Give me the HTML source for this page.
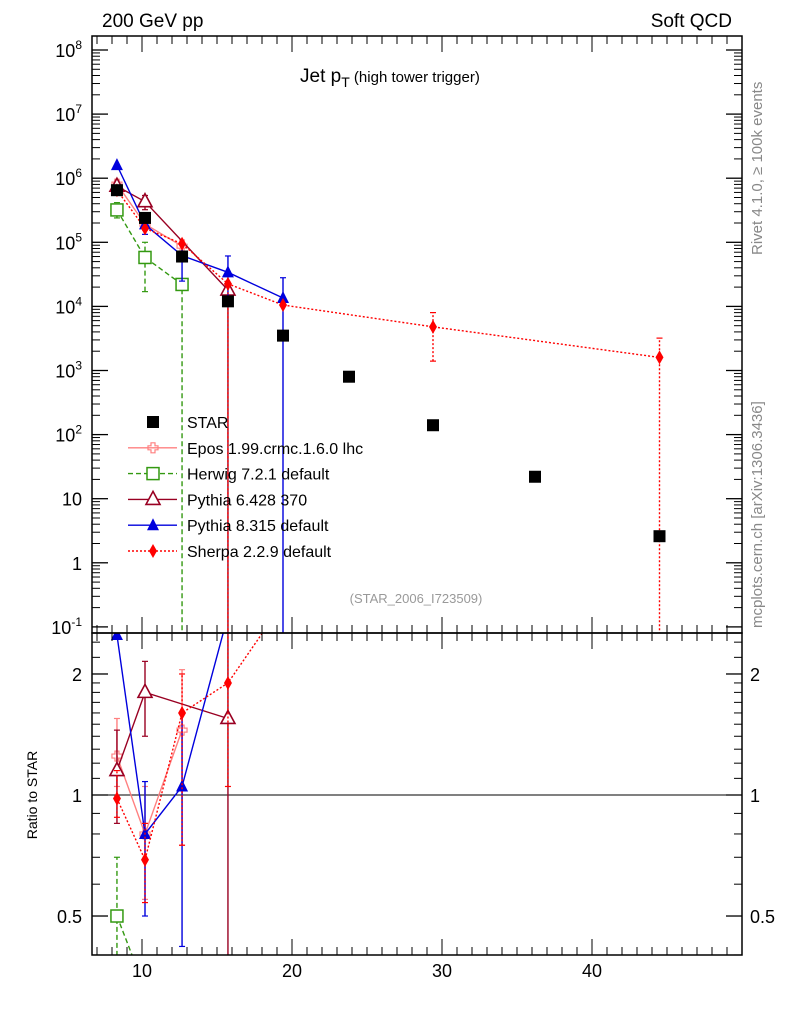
<!DOCTYPE html>
<html><head><meta charset="utf-8"><style>
html,body{margin:0;padding:0;background:#fff;width:786px;height:1024px;overflow:hidden;}
svg{display:block;font-family:"Liberation Sans",sans-serif;overflow:hidden;}
</style></head><body>
<svg id="c" width="786" height="1024" viewBox="0 0 786 1024">
<text x="102" y="27" font-size="19">200 GeV pp</text>
<text x="732" y="27" font-size="19" text-anchor="end">Soft QCD</text>
<text x="300" y="82" font-size="19">Jet p<tspan font-size="14" dy="5">T</tspan><tspan font-size="15" dy="-5"> (high tower trigger)</tspan></text>
<text transform="translate(762,255) rotate(-90)" font-size="15" fill="#888">Rivet 4.1.0, ≥ 100k events</text>
<text transform="translate(762,628) rotate(-90)" font-size="15" fill="#888">mcplots.cern.ch [arXiv:1306.3436]</text>
<text x="416" y="603" font-size="13" fill="#999" text-anchor="middle">(STAR_2006_I723509)</text>
<text transform="translate(37,795) rotate(-90)" font-size="14" text-anchor="middle">Ratio to STAR</text>
<defs><clipPath id="cm"><rect x="92" y="36" width="650" height="597"/></clipPath><clipPath id="cr"><rect x="92" y="633" width="650" height="322"/></clipPath></defs>
<g id="main"></g><g id="ratio"></g><g id="axes"></g><g id="legend"></g>
</svg>
<script>
const xs = [8.33, 10.2, 12.67, 15.73, 19.4, 23.8, 29.4, 36.2, 44.5];
const starVals = [6.5e5, 2.4e5, 6e4, 1.2e4, 3.5e3, 800, 140, 22, 2.6];
const eposX = [8.33, 10.2, 12.67];
const eposVals = [8.1e5, 1.92e5, 8.7e4];
const eposRatio = [1.25, 0.8, 1.45];
const herwigX = [8.33, 10.2, 12.67];
const herwigVals = [3.2e5, 5.8e4, 2.2e4];
const herwigRatio = [0.5, 0.33, 0.38];
const py6X = [8.33, 10.2, 15.73];
const py6Vals = [7.5e5, 4.3e5, 1.8e4];
const py6Ratio = [1.15, 1.8, 1.55];
const py8X = [8.33, 10.2, 12.67, 15.73, 19.4];
const py8Vals = [1.6e6, 1.9e5, 6.2e4, 3.4e4, 1.35e4];
const py8Ratio = [2.5, 0.8, 1.05, 2.8, 3.9];
const sherpaX = [8.33, 10.2, 12.67, 15.73, 19.4, 29.4, 44.5];
const sherpaVals = [6.5e5, 1.65e5, 9.5e4, 2.25e4, 1.05e4, 4.8e3, 1.6e3];
const sherpaRatio = [0.98, 0.69, 1.6, 1.9, 3.0, 34, 600];

const NS="http://www.w3.org/2000/svg";
const L=92,R=742,T=36,MB=633,RT=633,RB=955;
const X=v=>142+(v-10)*15;
const Y=v=>50+(8-Math.log10(v))*64.1;
const YR=r=>795-402*Math.log10(r);
function el(p,t,a){const e=document.createElementNS(NS,t);for(const k in a)e.setAttribute(k,a[k]);p.appendChild(e);return e;}
const main=document.getElementById('main'),ratio=document.getElementById('ratio'),axes=document.getElementById('axes');
const gm=el(main,'g',{'clip-path':'url(#cm)'});
const gr=el(ratio,'g',{'clip-path':'url(#cr)'});
el(gr,'line',{x1:L,x2:R,y1:YR(1),y2:YR(1),stroke:'#000','stroke-width':1});

function marker(g,type,x,y,col){
  let m;
  if(type==='sq') m=el(g,'rect',{x:x-6,y:y-6,width:12,height:12,fill:'#000'});
  else if(type==='osq') m=el(g,'rect',{x:x-6,y:y-6,width:12,height:12,fill:'#fff',stroke:col,'stroke-width':1.5});
  else if(type==='cross') m=el(g,'path',{d:`M${x-2} ${y-5}h4v3h3v4h-3v3h-4v-3h-3v-4h3z`,fill:'none',stroke:col,'stroke-width':1.2});
  else if(type==='otri') m=el(g,'path',{d:`M${x} ${y-8}L${x+7} ${y+5}L${x-7} ${y+5}Z`,fill:'#fff',stroke:col,'stroke-width':1.6});
  else if(type==='tri') m=el(g,'path',{d:`M${x} ${y-7}L${x+6} ${y+5}L${x-6} ${y+5}Z`,fill:col});
  else if(type==='dia') m=el(g,'path',{d:`M${x} ${y-7}L${x+4} ${y}L${x} ${y+7}L${x-4} ${y}Z`,fill:col});
  return m;
}
function series(g,xa,va,yf,col,dash,type,name,errs){
  const pts=xa.map((x,i)=>X(x)+','+yf(va[i])).join(' ');
  const pl=el(g,'polyline',{points:pts,fill:'none',stroke:col,'stroke-width':1.4,'stroke-dasharray':dash});
  
  
  xa.forEach((x,i)=>{
    if(errs&&errs[i]){const [lo,hi]=errs[i];
      el(g,'line',{x1:X(x),x2:X(x),y1:yf(lo),y2:yf(hi),stroke:col,'stroke-width':1.4,'stroke-dasharray':dash});
      el(g,'line',{x1:X(x)-3,x2:X(x)+3,y1:yf(hi),y2:yf(hi),stroke:col,'stroke-width':1.2});
      el(g,'line',{x1:X(x)-3,x2:X(x)+3,y1:yf(lo),y2:yf(lo),stroke:col,'stroke-width':1.2});}
    const m=marker(g,type,X(x),yf(va[i]),col);
    
    
  });
}
const f=(v,a,b)=>[v*a,v*b];
series(gm,herwigX,herwigVals,Y,'#339911','5,3','osq','herwig',[f(herwigVals[0],.75,1.3),[1.7e4,1e5],[0.05,2.2e4]]);
series(gm,eposX,eposVals,Y,'#ff8080','','cross','epos',[f(eposVals[0],.85,1.15),f(eposVals[1],.8,1.2),f(eposVals[2],.8,1.25)]);
series(gm,py6X,py6Vals,Y,'#990022','','otri','pythia6',[f(py6Vals[0],.85,1.15),f(py6Vals[1],.75,1.25),[0.05,1.8e4]]);
series(gm,py8X,py8Vals,Y,'#0000dd','','tri','pythia8',[null,f(py8Vals[1],.7,1.3),f(py8Vals[2],.4,1.6),f(py8Vals[3],.4,1.8),[0.05,2.8e4]]);
series(gm,sherpaX,sherpaVals,Y,'#ff0000','2,2','dia','sherpa',[null,null,null,[0.05,2.3e4],null,[1.4e3,8e3],[0.05,3.2e3]]);
xs.forEach((x,i)=>{const m=marker(gm,'sq',X(x),Y(starVals[i]),'#000');
  
  });
series(gr,herwigX,herwigRatio,YR,'#339911','5,3','osq','herwig-ratio',[[0.38,0.7],null,null]);
series(gr,eposX,eposRatio,YR,'#ff8080','','cross','epos-ratio',[[1.05,1.55],[0.55,1.05],[0.75,2.05]]);
series(gr,py6X,py6Ratio,YR,'#990022','','otri','pythia6-ratio',[[0.85,1.45],[1.4,2.15],[0.38,2.6]]);
series(gr,py8X,py8Ratio,YR,'#0000dd','','tri','pythia8-ratio',[null,[0.5,1.08],[0.42,1.6],null,null]);
series(gr,sherpaX,sherpaRatio,YR,'#ff0000','2,2','dia','sherpa-ratio',[[0.88,1.15],[0.54,0.85],[0.75,2.0],[1.05,2.6],null,null,null]);
el(axes,'rect',{x:L,y:T,width:R-L,height:MB-T,fill:'none',stroke:'#000','stroke-width':1.5});
el(axes,'rect',{x:L,y:RT,width:R-L,height:RB-RT,fill:'none',stroke:'#000','stroke-width':1.5});
const yLabels=['10<tspan dy="-8" font-size="12">-1</tspan>','1','10','10<tspan dy="-8" font-size="12">2</tspan>','10<tspan dy="-8" font-size="12">3</tspan>','10<tspan dy="-8" font-size="12">4</tspan>','10<tspan dy="-8" font-size="12">5</tspan>','10<tspan dy="-8" font-size="12">6</tspan>','10<tspan dy="-8" font-size="12">7</tspan>','10<tspan dy="-8" font-size="12">8</tspan>'];
for(let e=-1;e<=8;e++){
  const y=Y(Math.pow(10,e));
  el(axes,'line',{x1:L,x2:L+16,y1:y,y2:y,stroke:'#000','stroke-width':1.3});
  el(axes,'line',{x1:R,x2:R-16,y1:y,y2:y,stroke:'#000','stroke-width':1.3});
  const t=el(axes,'text',{x:L-10,y:y+7,'font-size':18,'text-anchor':'end'});t.innerHTML=yLabels[e+1];
  
  
  for(let k=2;k<10;k++){const yy=Y(k*Math.pow(10,e));if(yy<T)continue;
    el(axes,'line',{x1:L,x2:L+8,y1:yy,y2:yy,stroke:'#000'});el(axes,'line',{x1:R,x2:R-8,y1:yy,y2:yy,stroke:'#000'});}
}
[[2,'2'],[1,'1'],[0.5,'0.5']].forEach(([r,s])=>{const y=YR(r);
  el(axes,'line',{x1:L,x2:L+16,y1:y,y2:y,stroke:'#000','stroke-width':1.3});
  el(axes,'line',{x1:R,x2:R-16,y1:y,y2:y,stroke:'#000','stroke-width':1.3});
  const a=el(axes,'text',{x:L-10,y:y+7,'font-size':18,'text-anchor':'end'});a.textContent=s;
  
  
  const b=el(axes,'text',{x:R+8,y:y+7,'font-size':18});b.textContent=s;
  
  });
[0.4,0.6,0.7,0.8,0.9,1.1,1.2,1.3,1.4,1.5,1.6,1.7,1.8,1.9,2.2,2.4].forEach(r=>{const y=YR(r);
  el(axes,'line',{x1:L,x2:L+8,y1:y,y2:y,stroke:'#000'});el(axes,'line',{x1:R,x2:R-8,y1:y,y2:y,stroke:'#000'});});
for(let v=7;v<=49;v++){const x=X(v);const big=v%10===0;const h=big?16:8;
  el(axes,'line',{x1:x,x2:x,y1:MB,y2:MB-h,stroke:'#000'});el(axes,'line',{x1:x,x2:x,y1:T,y2:T+h,stroke:'#000'});
  el(axes,'line',{x1:x,x2:x,y1:RB,y2:RB-h,stroke:'#000'});el(axes,'line',{x1:x,x2:x,y1:RT,y2:RT+h,stroke:'#000'});
  if(big){const t=el(axes,'text',{x:x,y:977,'font-size':18,'text-anchor':'middle'});t.textContent=v;
    
    }
}
const lg=document.getElementById('legend');
const items=[['STAR','sq','#000',''],['Epos 1.99.crmc.1.6.0 lhc','cross','#ff8080',''],['Herwig 7.2.1 default','osq','#339911','5,3'],['Pythia 6.428 370','otri','#990022',''],['Pythia 8.315 default','tri','#0000dd',''],['Sherpa 2.2.9 default','dia','#ff0000','2,2']];
items.forEach(([n,t,c,d],i)=>{const y=422+i*25.8;
  const g=el(lg,'g',{});
  
  
  if(i>0) el(g,'line',{x1:128,x2:177,y1:y,y2:y,stroke:c,'stroke-width':1.4,'stroke-dasharray':d});
  marker(g,t,153,y,c);
  const tx=el(g,'text',{x:187,y:y+6,'font-size':16});tx.textContent=n;});
</script>
</body></html>
